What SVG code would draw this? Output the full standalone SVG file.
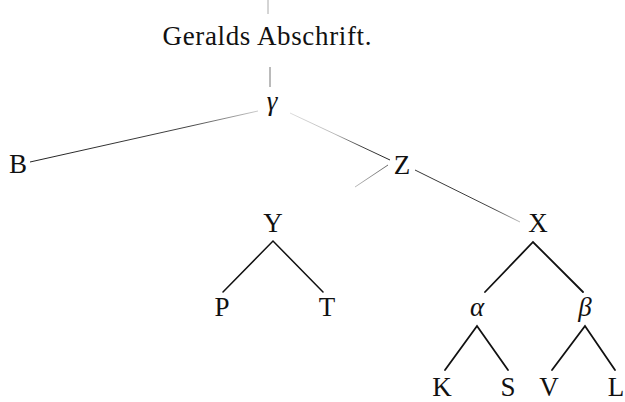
<svg xmlns="http://www.w3.org/2000/svg" width="625" height="402" viewBox="0 0 625 402">
  <defs>
    <style>
      .lbl { font-family: "Liberation Serif", "DejaVu Serif", serif; font-size: 27px; fill: #111; text-anchor: middle; }
      .gr { font-style: italic; }
      .thin { stroke: #333; stroke-width: 1; fill: none; }
      .bold { stroke: #111; stroke-width: 1.8; fill: none; stroke-linecap: round; }
    </style>
    <linearGradient id="fadeBG" gradientUnits="userSpaceOnUse" x1="30" y1="162" x2="258" y2="111">
      <stop offset="0" stop-color="#222"/>
      <stop offset="0.7" stop-color="#444"/>
      <stop offset="1" stop-color="#ccc"/>
    </linearGradient>
    <linearGradient id="fadeGZ" gradientUnits="userSpaceOnUse" x1="290" y1="113" x2="390" y2="160">
      <stop offset="0" stop-color="#ddd"/>
      <stop offset="0.45" stop-color="#bbb"/>
      <stop offset="0.7" stop-color="#444"/>
      <stop offset="1" stop-color="#222"/>
    </linearGradient>
    <linearGradient id="fadeZX" gradientUnits="userSpaceOnUse" x1="415" y1="170" x2="520" y2="222">
      <stop offset="0" stop-color="#333"/>
      <stop offset="0.75" stop-color="#444"/>
      <stop offset="1" stop-color="#bbb"/>
    </linearGradient>
    <linearGradient id="fadeZY" gradientUnits="userSpaceOnUse" x1="388" y1="165" x2="355" y2="187">
      <stop offset="0" stop-color="#666"/>
      <stop offset="1" stop-color="#bbb"/>
    </linearGradient>
  </defs>
  <rect width="625" height="402" fill="#fff"/>

  <g id="connectors">
    <line class="thin" x1="268" y1="0" x2="268" y2="14" style="stroke:#aaa"/>
    <line class="thin" x1="270" y1="67" x2="270" y2="87" style="stroke:#777"/>
    <line class="thin" x1="30" y1="162" x2="258" y2="111" style="stroke:url(#fadeBG)"/>
    <line class="thin" x1="290" y1="113" x2="390" y2="160" style="stroke:url(#fadeGZ)"/>
    <line class="thin" x1="388" y1="165" x2="355" y2="187" style="stroke:url(#fadeZY)"/>
    <line class="thin" x1="415" y1="170" x2="520" y2="222" style="stroke:url(#fadeZX)"/>
    <polyline class="bold" points="223,292 273,241 323,292" style="stroke-width:1.5"/>
    <polyline class="bold" points="485,292 533,242 583,292"/>
    <polyline class="bold" points="445,370 477,326 508,370"/>
    <polyline class="bold" points="552,370 585,326 615,370"/>
  </g>

  <g id="title"><text class="lbl" x="267" y="45" textLength="209" lengthAdjust="spacing">Geralds Abschrift.</text></g>
  <g id="gamma"><text class="lbl gr" x="272" y="110">γ</text></g>
  <g id="B"><text class="lbl" x="18" y="173">B</text></g>
  <g id="Z"><text class="lbl" x="402" y="174">Z</text></g>
  <g id="Y"><text class="lbl" x="273" y="232">Y</text></g>
  <g id="X"><text class="lbl" x="538" y="232">X</text></g>
  <g id="P"><text class="lbl" x="222" y="316">P</text></g>
  <g id="T"><text class="lbl" x="327" y="316">T</text></g>
  <g id="alpha"><text class="lbl gr" x="477" y="316">α</text></g>
  <g id="beta"><text class="lbl gr" x="585" y="316">β</text></g>
  <g id="K"><text class="lbl" x="442" y="396">K</text></g>
  <g id="S"><text class="lbl" x="508" y="396">S</text></g>
  <g id="V"><text class="lbl" x="549" y="396">V</text></g>
  <g id="L"><text class="lbl" x="616" y="396">L</text></g>
</svg>
